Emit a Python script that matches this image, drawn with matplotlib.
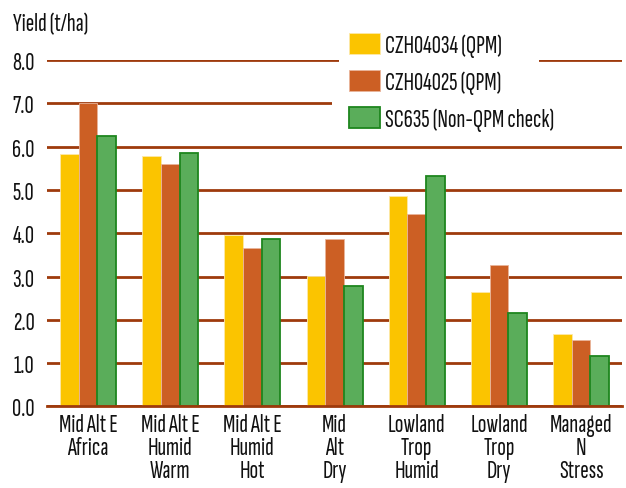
import matplotlib
matplotlib.use("Agg")
import matplotlib.pyplot as plt
import matplotlib.transforms as mtransforms
from matplotlib.patches import Rectangle
from matplotlib import font_manager as fm
from matplotlib.textpath import TextPath
import numpy as np

# --- dati ---
categories = ["Mid Alt E\nAfrica", "Mid Alt E\nHumid\nWarm", "Mid Alt E\nHumid\nHot",
              "Mid\nAlt\nDry", "Lowland\nTrop\nHumid", "Lowland\nTrop\nDry",
              "Managed\nN\nStress"]
czh04034 = [5.83, 5.78, 3.96, 3.02, 4.87, 2.64, 1.67]
czh04025 = [7.00, 5.59, 3.65, 3.86, 4.44, 3.27, 1.54]
sc635 = [6.24, 5.86, 3.86, 2.78, 5.33, 2.17, 1.17]
series_names = ["CZH04034 (QPM)", "CZH04025 (QPM)", "SC635 (Non-QPM check)"]
yticks = [0, 1, 2, 3, 4, 5, 6, 7, 8]

# --- scelta font: condensato con proporzioni simili a Myriad Condensed ---
# nel riferimento "Mid Alt E" e' largo ~56 px con maiuscole alte ~16.7 px
installed = {f.name for f in fm.fontManager.ttflist}
candidates = ['Cabin Condensed', 'Sofia Sans Condensed', 'Sofia Sans Extra Condensed',
              'Barlow Condensed', 'PT Sans Narrow', 'Archivo Narrow', 'Roboto Condensed',
              'Encode Sans Condensed', 'Saira Condensed', 'Fira Sans Condensed',
              'Open Sans Condensed', 'Asap Condensed', 'Pragati Narrow', 'Liberation Sans Narrow']


def measure(name):
    prop = fm.FontProperties(family=name)
    wpx = TextPath((0, 0), "Mid Alt E", size=25, prop=prop).get_extents().width
    cap = TextPath((0, 0), "M", size=25, prop=prop).get_extents().height
    return wpx, cap


best = 'DejaVu Sans'
best_w, best_cap = measure(best)
best_score = abs(best_w / best_cap - 56 / 16.7)
for n in candidates:
    if n not in installed:
        continue
    wpx, cap = measure(n)
    score = abs(wpx / cap - 56 / 16.7)
    if score < best_score:
        best, best_w, best_cap, best_score = n, wpx, cap, score

size_px = min(25 * 16.7 / best_cap, 25 * 62 / best_w)
fs = max(12, min(19, size_px * 72 / 100))
plt.rcParams['font.family'] = [best, 'DejaVu Sans']

fig = plt.figure(figsize=(6.26, 4.89), dpi=100)
ax = fig.add_axes([0.075, 0.1667, 0.919, 0.7083])

x = np.arange(len(categories))
w = 0.227
grid_col = '#9E3A0C'

b1 = ax.bar(x - w, czh04034, w, color='#FBC400', edgecolor='#FDE9A8', linewidth=0.6, zorder=2)
b2 = ax.bar(x, czh04025, w, color='#CC5F24', edgecolor='#E9B49A', linewidth=0.6, zorder=2)
b3 = ax.bar(x + w, sc635, w, color='#5AAD5A', edgecolor='#1E861E', linewidth=1.3, zorder=2)

ax.set_xlim(-0.5, len(categories) - 0.5)
ax.set_ylim(0, 8)
ax.set_yticks(yticks)
ax.set_yticklabels([f"{v:.1f}" for v in yticks], fontsize=fs)
ax.set_xticks(x)
ax.set_xticklabels(categories, fontsize=fs, linespacing=1.0)
ax.tick_params(axis='y', length=0, pad=9, colors='#111111')
ax.tick_params(axis='x', length=0, pad=5, colors='#111111')

ax.set_axisbelow(True)
ax.grid(axis='y', color=grid_col, linewidth=2)
for s in ['top', 'right', 'left']:
    ax.spines[s].set_visible(False)
ax.spines['bottom'].set_color(grid_col)
ax.spines['bottom'].set_linewidth(2)

# zone bianche dietro la legenda: riga 8.0 interrotta, riga 7.0 nascosta fino al bordo
trans = mtransforms.blended_transform_factory(ax.transAxes, ax.transData)
ax.add_patch(Rectangle((0.508, 7.7), 0.348, 0.6, transform=trans, facecolor='white',
                       edgecolor='none', zorder=1, clip_on=False))
ax.add_patch(Rectangle((0.496, 6.7), 0.52, 0.6, transform=trans, facecolor='white',
                       edgecolor='none', zorder=1, clip_on=False))

leg = ax.legend([b1, b2, b3], series_names, loc='upper left',
                bbox_to_anchor=(349 / 626, 1 - 34 / 489), bbox_transform=fig.transFigure,
                fontsize=fs, frameon=False, borderaxespad=0, borderpad=0,
                handlelength=1.2, handleheight=0.88, handletextpad=0.2,
                labelspacing=0.5)
for t in leg.get_texts():
    t.set_color('#111111')

fig.text(13 / 626, 1 - 25 / 489, "Yield (t/ha)", fontsize=fs, va='center', ha='left',
         color='#111111')

fig.savefig("out.png", dpi=100, facecolor='white')
